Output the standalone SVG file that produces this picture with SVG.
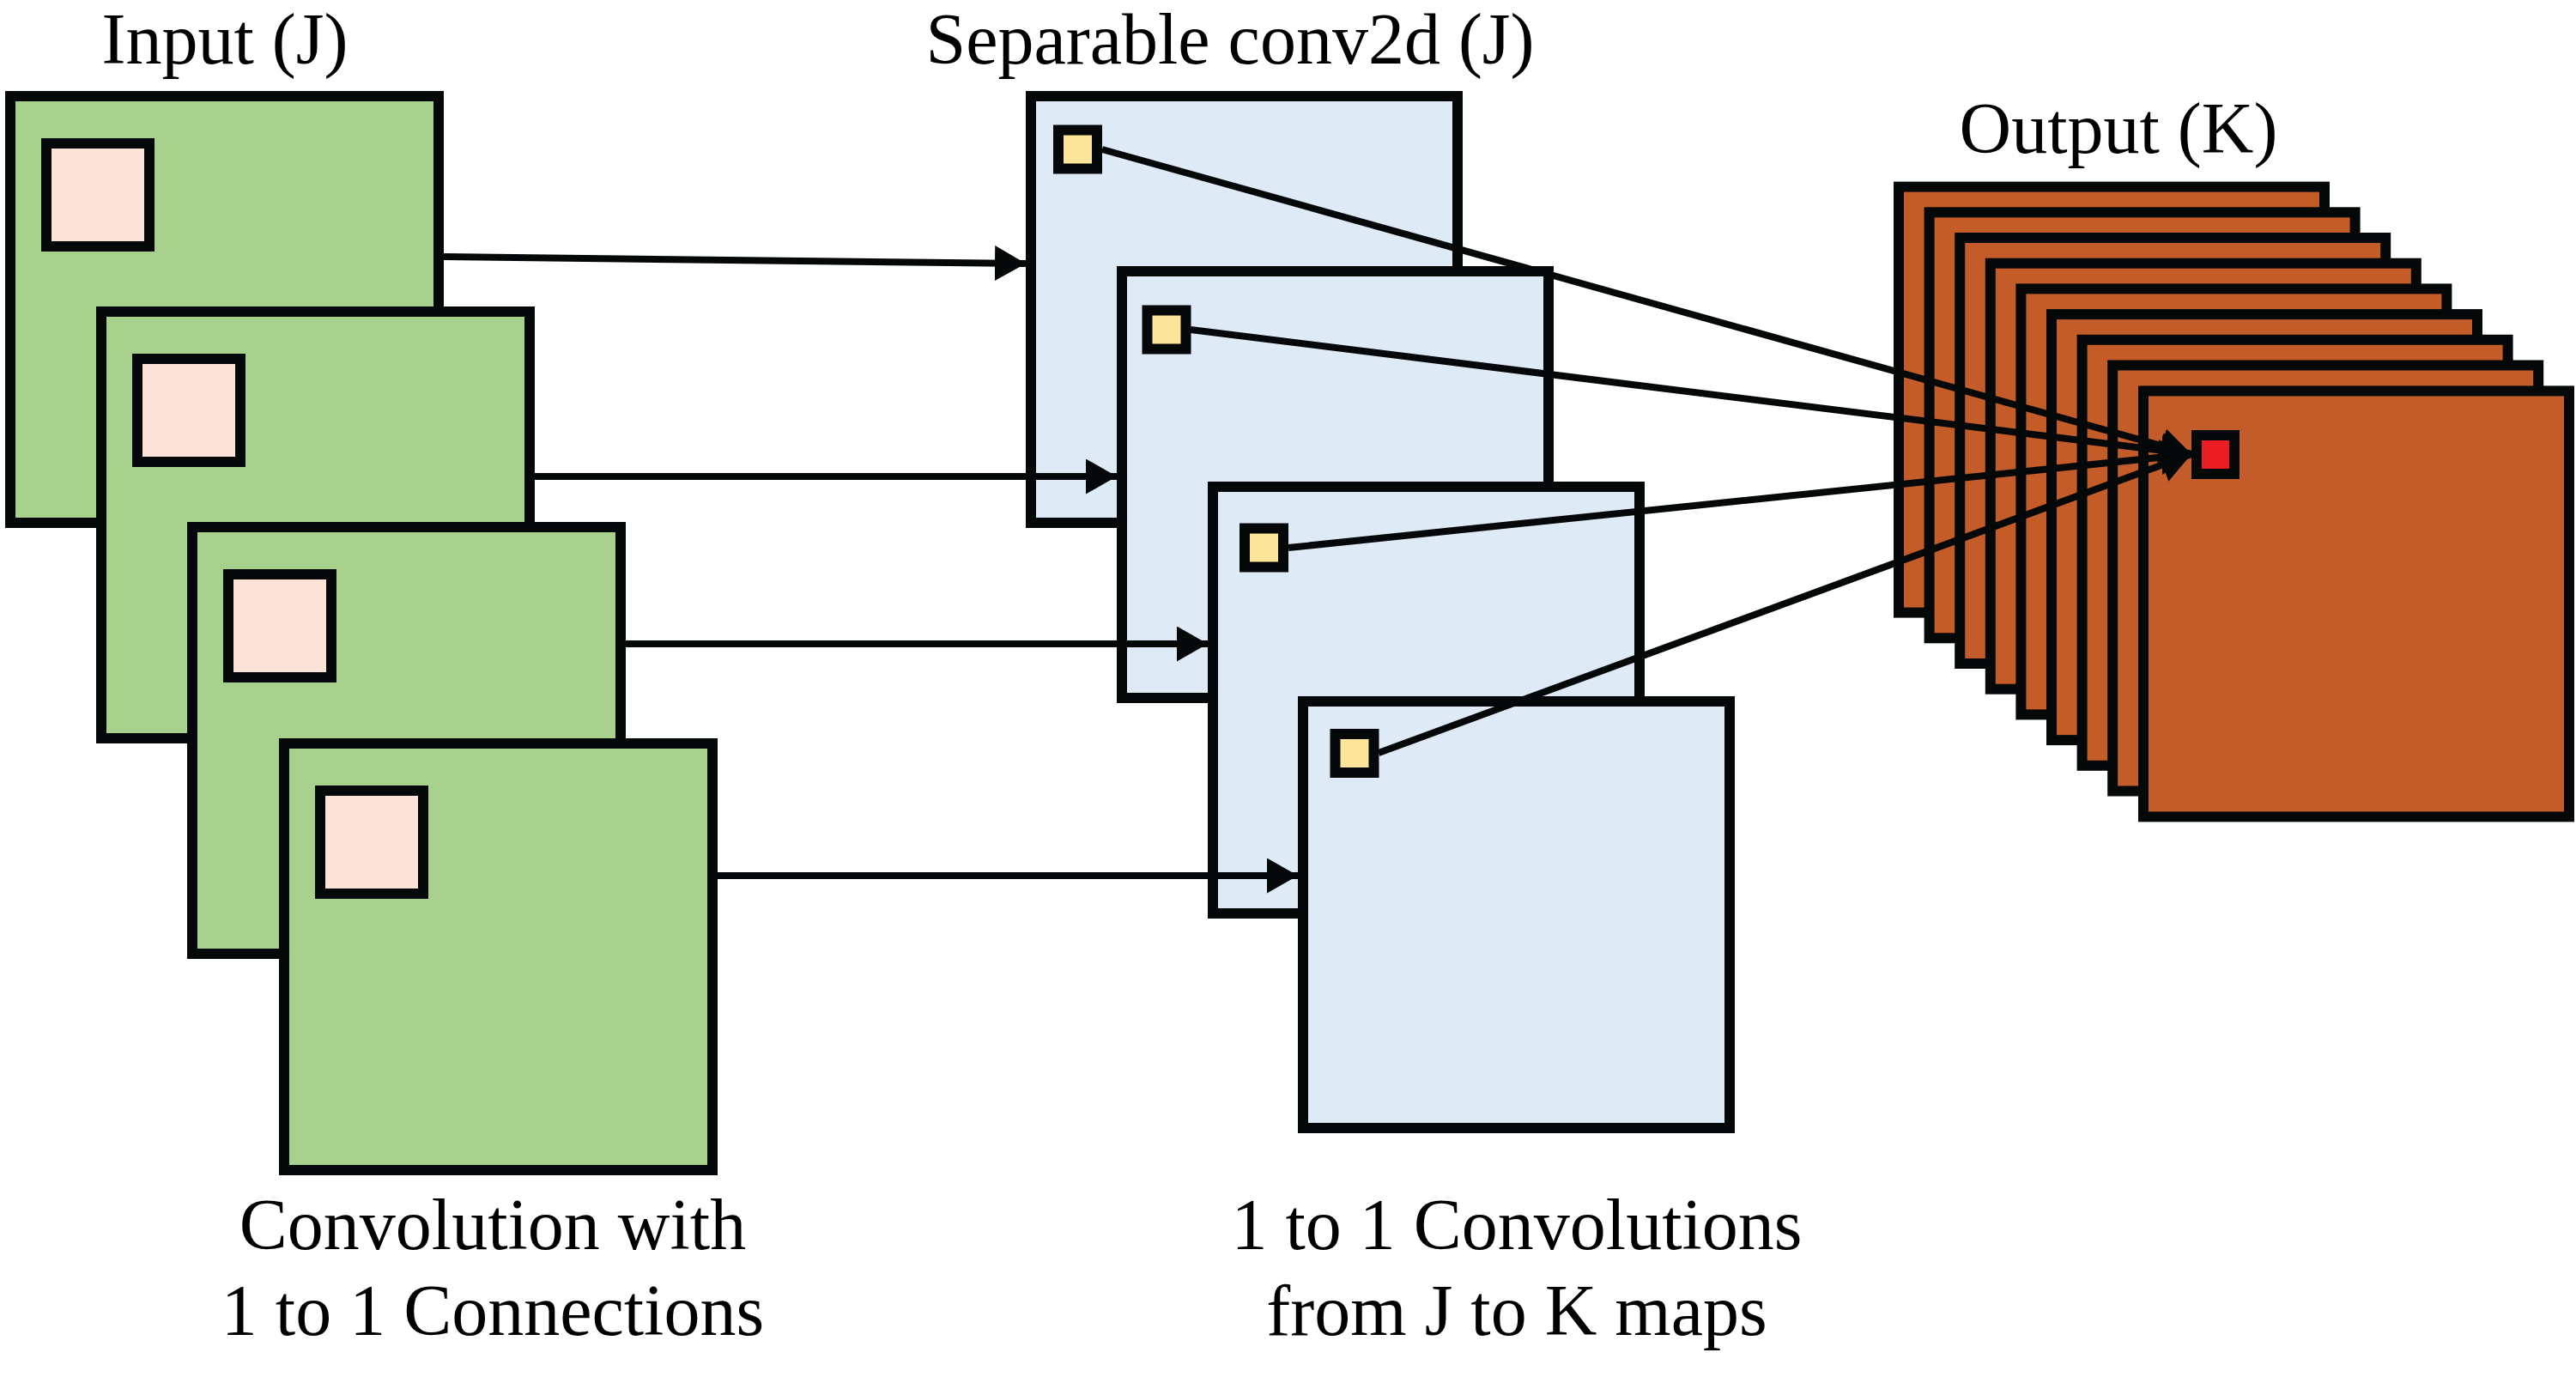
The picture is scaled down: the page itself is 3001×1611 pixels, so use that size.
<svg xmlns="http://www.w3.org/2000/svg" width="3001" height="1611" viewBox="0 0 3001 1611">
<style>
.box{stroke:#050808;stroke-width:12}
.g{fill:#A9D18E}
.p{fill:#FBE4D7}
.b{fill:#DEEAF6}
.y{fill:#FDE699}
.o{fill:#C45C29}
.r{fill:#ED1C24}
.conn{stroke:#050808;stroke-width:8;fill:none}
</style>
<defs>
<marker id="ah" markerUnits="userSpaceOnUse" markerWidth="40" markerHeight="44" refX="36" refY="20.5" orient="auto">
<path d="M0,0 L36,20.5 L0,41 z" fill="#050808"/>
</marker>
</defs>
<rect width="3001" height="1611" fill="#fff"/>

<g id="labels" font-family="'Liberation Serif', Tinos, 'Times New Roman', 'DejaVu Serif', serif" font-size="84" fill="#000" text-anchor="middle">
<text x="262" y="74">Input (J)</text>
<text x="1433" y="74">Separable conv2d (J)</text>
<text x="2468" y="178">Output (K)</text>
<text x="574" y="1455">Convolution with</text>
<text x="574" y="1555">1 to 1 Connections</text>
<text x="1767" y="1455">1 to 1 Convolutions</text>
<text x="1767" y="1555">from J to K maps</text>
</g>

<g id="input-1"><rect class="box g" x="12" y="112" width="499" height="497"/><rect class="box p" x="54" y="167" width="120" height="120"/></g>
<g id="input-2"><rect class="box g" x="118" y="363" width="499" height="497"/><rect class="box p" x="160" y="418" width="120" height="120"/></g>
<g id="input-3"><rect class="box g" x="224" y="614" width="499" height="497"/><rect class="box p" x="266" y="669" width="120" height="120"/></g>
<g id="input-4"><rect class="box g" x="331" y="866" width="499" height="497"/><rect class="box p" x="373" y="921" width="120" height="120"/></g>

<g id="sep-1"><rect class="box b" x="1201" y="112" width="497" height="497"/><rect class="box y" x="1233" y="151.5" width="45" height="45"/></g>
<g id="sep-2"><rect class="box b" x="1307" y="316" width="497" height="497"/><rect class="box y" x="1336.5" y="361.5" width="45" height="45"/></g>
<g id="sep-3"><rect class="box b" x="1413" y="567" width="497" height="497"/><rect class="box y" x="1450" y="615.5" width="45" height="45"/></g>
<g id="sep-4"><rect class="box b" x="1518" y="817" width="497" height="497"/><rect class="box y" x="1555.5" y="855" width="45" height="45"/></g>

<g id="output">
<rect class="box o" x="2212" y="217.6" width="496" height="496"/>
<rect class="box o" x="2247.6" y="247.3" width="496" height="496"/>
<rect class="box o" x="2283.2" y="277" width="496" height="496"/>
<rect class="box o" x="2318.8" y="306.7" width="496" height="496"/>
<rect class="box o" x="2354.4" y="336.4" width="496" height="496"/>
<rect class="box o" x="2390" y="366.1" width="496" height="496"/>
<rect class="box o" x="2425.6" y="395.8" width="496" height="496"/>
<rect class="box o" x="2461.2" y="425.5" width="496" height="496"/>
<rect class="box o" x="2497" y="455.4" width="496" height="496"/>
<rect class="box r" x="2559" y="507" width="44" height="45"/>
</g>

<g id="connectors">
<line class="conn" x1="517" y1="299" x2="1195" y2="307" marker-end="url(#ah)"/>
<line class="conn" x1="623" y1="555" x2="1301" y2="555" marker-end="url(#ah)"/>
<line class="conn" x1="729" y1="750" x2="1407" y2="750" marker-end="url(#ah)"/>
<line class="conn" x1="835" y1="1020" x2="1512" y2="1020" marker-end="url(#ah)"/>
<line class="conn" x1="1284" y1="174" x2="2553" y2="529" marker-end="url(#ah)"/>
<line class="conn" x1="1387" y1="384" x2="2553" y2="529" marker-end="url(#ah)"/>
<line class="conn" x1="1501" y1="638" x2="2553" y2="529" marker-end="url(#ah)"/>
<line class="conn" x1="1606" y1="877" x2="2553" y2="529" marker-end="url(#ah)"/>
</g>
</svg>
